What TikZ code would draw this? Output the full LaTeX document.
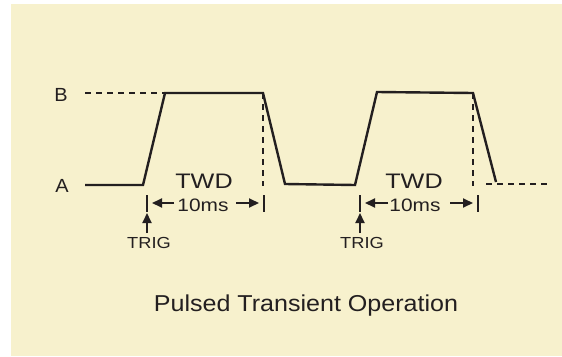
\documentclass[tikz,border=0pt]{standalone}
\usepackage{fontspec}
\setmainfont{Liberation Sans}
\usetikzlibrary{arrows.meta}
\definecolor{bg}{HTML}{F7F1CD}
\definecolor{ink}{HTML}{231F20}
\newcommand{\wideT}[2]{\scalebox{#1}[1]{#2}}
\begin{document}
\begin{tikzpicture}[x=1pt,y=-1pt,
  wave/.style={draw=ink,line width=2.4pt,line join=miter},
  dsh/.style={draw=ink,line width=1.6pt,dash pattern=on 6pt off 5pt},
  tick/.style={draw=ink,line width=2pt},
  arr/.style={draw=ink,line width=2pt,-{Triangle[length=10pt,width=9pt]}},
  lbl/.style={text=ink,inner sep=0pt,anchor=center}]
\useasboundingbox (0,0) rectangle (562,356);
\fill[bg] (11,4) rectangle (562,356);
% levels
\node[lbl,font=\fontsize{19}{19}\selectfont] (B) at (61,95) {\wideT{1.05}{B}};
\node[lbl,font=\fontsize{19}{19}\selectfont] (A) at (62,186) {\wideT{1.05}{A}};
% waveform points
\coordinate (a0) at (85,185);
\coordinate (a1) at (143,185);
\coordinate (b1) at (165,93);
\coordinate (b2) at (263,93);
\coordinate (a2) at (285,184);
\coordinate (a3) at (355,185);
\coordinate (b3) at (377,92);
\coordinate (b4) at (473,93);
\coordinate (a4) at (496,182);
\draw[wave] (a0) -- (a1) -- (b1) -- (b2) -- (a2) -- (a3) -- (b3) -- (b4) -- (a4);
% dashed
\coordinate (bd0) at (85,93);
\draw[dsh] (bd0) -- (b1);
\coordinate (v1) at (263,186);
\coordinate (v2) at (473,186);
\draw[dsh] (b2) -- (v1);
\draw[dsh] (b4) -- (v2);
\coordinate (ad0) at (486,184);
\coordinate (ad1) at (548,184);
\draw[dsh] (ad0) -- (ad1);
% pulse 1 annotations
\node[lbl,font=\fontsize{21}{21}\selectfont] (twd1) at (204,181) {\wideT{1.2}{TWD}};
\node[lbl,font=\fontsize{18}{18}\selectfont] (ms1) at (203,205) {\wideT{1.16}{10ms}};
\coordinate (t1a) at (147,195); \coordinate (t1b) at (147,212);
\coordinate (t2a) at (264,195); \coordinate (t2b) at (264,212);
\draw[tick] (t1a) -- (t1b);
\draw[tick] (t2a) -- (t2b);
\coordinate (l1) at (152,203); \coordinate (l1t) at (174,203);
\coordinate (r1) at (259,203); \coordinate (r1t) at (236,203);
\draw[arr] (l1t) -- (l1);
\draw[arr] (r1t) -- (r1);
\node[lbl,font=\fontsize{16}{16}\selectfont] (trig1) at (149,243) {\wideT{1.14}{TRIG}};
\coordinate (tr1a) at (147,233); \coordinate (tr1b) at (147,213);
\draw[arr] (tr1a) -- (tr1b);
% pulse 2 annotations
\node[lbl,font=\fontsize{21}{21}\selectfont] (twd2) at (414,181) {\wideT{1.2}{TWD}};
\node[lbl,font=\fontsize{18}{18}\selectfont] (ms2) at (415,205) {\wideT{1.16}{10ms}};
\coordinate (t3a) at (360,195); \coordinate (t3b) at (360,212);
\coordinate (t4a) at (478,195); \coordinate (t4b) at (478,212);
\draw[tick] (t3a) -- (t3b);
\draw[tick] (t4a) -- (t4b);
\coordinate (l2) at (365,203); \coordinate (l2t) at (388,203);
\coordinate (r2) at (473,203); \coordinate (r2t) at (450,203);
\draw[arr] (l2t) -- (l2);
\draw[arr] (r2t) -- (r2);
\node[lbl,font=\fontsize{16}{16}\selectfont] (trig2) at (362,243) {\wideT{1.14}{TRIG}};
\coordinate (tr2a) at (360,233); \coordinate (tr2b) at (360,213);
\draw[arr] (tr2a) -- (tr2b);
% title
\node[lbl,font=\fontsize{23}{23}\selectfont] (title) at (306,306) {\wideT{1.09}{Pulsed Transient Operation}};
\end{tikzpicture}
\end{document}
